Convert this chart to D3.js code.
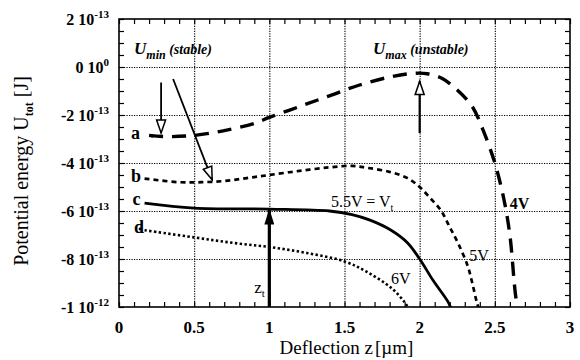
<!DOCTYPE html>
<html>
<head>
<meta charset="utf-8">
<script src="https://cdn.jsdelivr.net/npm/d3@7"></script>
<style>
  body { margin: 0; background: #fff; }
  svg text { font-family: "Liberation Serif", "Times New Roman", "DejaVu Serif", serif; fill: #000; }
</style>
</head>
<body>
<div id="chart"></div>
<script>
// curves (x in um, U in J)
var aX = [0.2, 0.3, 0.5, 0.7, 0.9, 1.0, 1.2, 1.4, 1.6, 1.8, 1.95, 2.05, 2.15, 2.25, 2.35, 2.42, 2.5, 2.56, 2.6, 2.64, 2.66];
var aU = [-2.85e-13, -2.9e-13, -2.85e-13, -2.65e-13, -2.35e-13, -2.1e-13, -1.65e-13, -1.2e-13, -0.75e-13, -0.42e-13, -0.27e-13, -0.28e-13, -0.48e-13, -0.96e-13, -1.65e-13, -2.6e-13, -4.0e-13, -5.5e-13, -7.0e-13, -9.6e-13, -10.2e-13];
var bX = [0.17, 0.4, 0.55, 0.7, 0.85, 1.0, 1.2, 1.4, 1.55, 1.65, 1.8, 1.92, 2.0, 2.07, 2.14, 2.2, 2.26, 2.32, 2.35, 2.38, 2.4];
var bU = [-4.65e-13, -4.8e-13, -4.8e-13, -4.75e-13, -4.63e-13, -4.5e-13, -4.33e-13, -4.18e-13, -4.12e-13, -4.2e-13, -4.37e-13, -4.63e-13, -5.0e-13, -5.46e-13, -5.96e-13, -6.67e-13, -7.4e-13, -8.3e-13, -9.0e-13, -9.8e-13, -10.2e-13];
var cX = [0.17, 0.5, 1.0, 1.4, 1.55, 1.67, 1.81, 1.92, 2.0, 2.09, 2.19, 2.21];
var cU = [-5.67e-13, -5.88e-13, -5.92e-13, -6.0e-13, -6.15e-13, -6.38e-13, -6.8e-13, -7.33e-13, -8.0e-13, -8.9e-13, -9.8e-13, -10.1e-13];
var dX = [0.17, 0.5, 0.76, 1.0, 1.25, 1.5, 1.65, 1.81, 1.9, 1.93];
var dU = [-6.8e-13, -7.1e-13, -7.33e-13, -7.5e-13, -7.75e-13, -8.1e-13, -8.54e-13, -9.2e-13, -9.8e-13, -10.1e-13];

var xTicks = [0, 0.5, 1, 1.5, 2, 2.5, 3];
var xTickLabels = ["0", "0.5", "1", "1.5", "2", "2.5", "3"];
var yTicks = [2e-13, 0, -2e-13, -4e-13, -6e-13, -8e-13, -1e-12];
var yTickMant = ["2 10", "0 10", "-2 10", "-4 10", "-6 10", "-8 10", "-1 10"];
var yTickExp = ["-13", "0", "-13", "-13", "-13", "-13", "-12"];

var width = 580, height = 360;
var margin = {left: 119, right: 10, top: 19, bottom: 53};
var w = width - margin.left - margin.right;
var h = height - margin.top - margin.bottom;
var serif = "'Liberation Serif', 'Times New Roman', 'DejaVu Serif', serif";

var svg = d3.select("#chart").append("svg")
    .attr("width", width)
    .attr("height", height)
    .attr("font-family", serif);

var defs = svg.append("defs");
defs.append("clipPath").attr("id", "clip")
  .append("rect").attr("width", w).attr("height", h);
defs.append("marker").attr("id", "solidHead")
    .attr("viewBox", "0 0 16 10").attr("refX", 15).attr("refY", 5)
    .attr("markerWidth", 16).attr("markerHeight", 10).attr("markerUnits", "userSpaceOnUse")
    .attr("orient", "auto")
  .append("path").attr("d", "M0,0 L16,5 L0,10 Z").attr("fill", "#000");
defs.append("marker").attr("id", "openHead")
    .attr("viewBox", "-2 -2 17 13").attr("refX", 13).attr("refY", 4.5)
    .attr("markerWidth", 17).attr("markerHeight", 13).attr("markerUnits", "userSpaceOnUse")
    .attr("orient", "auto")
  .append("path").attr("d", "M0,0 L13,4.5 L0,9 Z")
    .attr("fill", "#fff").attr("stroke", "#000").attr("stroke-width", 1.5);

var g = svg.append("g").attr("transform", "translate(" + margin.left + "," + margin.top + ")");

var x = d3.scaleLinear().domain([0, 3]).range([0, w]);
var y = d3.scaleLinear().domain([-1e-12, 2e-13]).range([h, 0]);

// grid
g.append("g").attr("class", "grid")
  .attr("transform", "translate(0," + h + ")")
  .call(d3.axisBottom(x).tickValues(xTicks.slice(1, -1)).tickSize(-h).tickFormat(""));
g.append("g").attr("class", "grid")
  .call(d3.axisLeft(y).tickValues(yTicks.slice(1, -1)).tickSize(-w).tickFormat(""));
g.selectAll(".grid .domain").remove();
g.selectAll(".grid line").attr("stroke", "#000").attr("stroke-width", 1.1).attr("stroke-dasharray", "1.2,1.3");

// inward ticks on all four sides
var xMinor = d3.range(0, 31).map(function(i) { return i / 10; });
var yMinor = d3.range(0, 25).map(function(i) { return 2e-13 - i * 0.5e-13; });
function ticks(sel) {
  sel.selectAll(".domain").remove();
  sel.selectAll("line").attr("stroke", "#000").attr("stroke-width", 1.2);
}
g.append("g").attr("transform", "translate(0," + h + ")")
  .call(d3.axisBottom(x).tickValues(xMinor).tickSize(-5).tickFormat("")).call(ticks);
g.append("g")
  .call(d3.axisTop(x).tickValues(xMinor).tickSize(-5).tickFormat("")).call(ticks);
g.append("g")
  .call(d3.axisLeft(y).tickValues(yMinor).tickSize(-5).tickFormat("")).call(ticks);
g.append("g").attr("transform", "translate(" + w + ",0)")
  .call(d3.axisRight(y).tickValues(yMinor).tickSize(-5).tickFormat("")).call(ticks);

// curves
var line = d3.line()
  .x(function(d) { return x(d[0]); })
  .y(function(d) { return y(d[1]); })
  .curve(d3.curveCatmullRom);

var curves = g.append("g").attr("clip-path", "url(#clip)");
function addCurve(xs, us, sw, dash) {
  curves.append("path")
    .datum(d3.zip(xs, us))
    .attr("d", line)
    .attr("fill", "none")
    .attr("stroke", "#000")
    .attr("stroke-width", sw)
    .attr("stroke-dasharray", dash);
}
addCurve(aX, aU, 3.4, "14,9");
addCurve(bX, bU, 2.7, "5,4");
addCurve(cX, cU, 2.8, null);
addCurve(dX, dU, 2.6, "2.4,2.4");

// small dots right after the "a" and "d" labels
g.append("circle").attr("cx", x(0.22)).attr("cy", y(-2.88e-13)).attr("r", 1.6);
g.append("circle").attr("cx", x(0.14)).attr("cy", y(-6.75e-13)).attr("r", 1.4);

// frame
g.append("rect").attr("width", w).attr("height", h)
  .attr("fill", "none").attr("stroke", "#000").attr("stroke-width", 1.6);

// arrows
function arrow(x0, u0, x1, u1, sw, head) {
  g.append("line")
    .attr("x1", x(x0)).attr("y1", y(u0))
    .attr("x2", x(x1)).attr("y2", y(u1))
    .attr("stroke", "#000").attr("stroke-width", sw)
    .attr("marker-end", "url(#" + head + ")");
}
arrow(1, -1e-12, 1, -5.94e-13, 3.2, "solidHead");
arrow(2, -2.75e-13, 2, -0.6e-13, 2.2, "openHead");
arrow(0.28, -0.65e-13, 0.28, -2.75e-13, 1.8, "openHead");
arrow(0.36, -0.5e-13, 0.62, -4.7e-13, 1.8, "openHead");

// tick labels
svg.append("g").selectAll("text").data(xTicks).enter().append("text")
  .attr("x", function(d) { return margin.left + x(d); })
  .attr("y", margin.top + h + 26)
  .attr("text-anchor", "middle")
  .attr("font-size", 17)
  .attr("font-weight", "bold")
  .text(function(d, i) { return xTickLabels[i]; });

var yl = svg.append("g").selectAll("text").data(yTicks).enter().append("text")
  .attr("x", margin.left - 10)
  .attr("y", function(d) { return margin.top + y(d) + 6; })
  .attr("text-anchor", "end")
  .attr("font-size", 16)
  .attr("font-weight", "bold");
yl.append("tspan").text(function(d, i) { return yTickMant[i]; });
yl.append("tspan").attr("dy", -7).attr("font-size", 11).text(function(d, i) { return yTickExp[i]; });

// axis titles
var xt = svg.append("text")
  .attr("x", margin.left + w / 2 + 2).attr("y", 354)
  .attr("text-anchor", "middle").attr("font-size", 19);
xt.append("tspan").text("Deflection z");
xt.append("tspan").attr("dy", 3).attr("font-size", 8).text(" ");
xt.append("tspan").attr("dy", -3).text("[\u00b5m]");

var yt = svg.append("text")
  .attr("transform", "translate(28," + (margin.top + h / 2 + 8) + ") rotate(-90)")
  .attr("text-anchor", "middle").attr("font-size", 20);
yt.append("tspan").text("Potential energy U");
yt.append("tspan").attr("dy", 5).attr("font-size", 12).attr("font-weight", "bold").text("tot");
yt.append("tspan").attr("dy", -5).text(" [J]");

// curve and annotation labels
function label(xv, uv, txt, size) {
  return g.append("text")
    .attr("x", x(xv)).attr("y", y(uv))
    .attr("font-size", size || 18)
    .attr("font-weight", "bold")
    .text(txt);
}
label(0.08, -3.0e-13, "a");
label(0.08, -4.8e-13, "b");
label(0.09, -5.75e-13, "c");
label(0.1, -6.9e-13, "d");
label(2.6, -5.9e-13, "4V", 16);
label(2.33, -8.1e-13, "5V", 16).attr("font-weight", "normal");
label(1.81, -9.05e-13, "6V", 16).attr("font-weight", "normal");

var vt = label(1.41, -5.83e-13, "5.5V = V", 16).attr("font-weight", "normal");
vt.append("tspan").attr("dy", 4).attr("font-size", 10).text("t");

var zt = label(0.9, -9.4e-13, "z", 17).attr("font-weight", "normal");
zt.append("tspan").attr("dy", 4).attr("font-size", 11).text("t");

var umin = label(0.1, 0.55e-13, "U", 17).attr("font-style", "italic");
umin.append("tspan").attr("dy", 5).attr("font-size", 12).text("min");
umin.append("tspan").attr("dy", -5).attr("font-size", 14).text(" (stable)");

var umax = label(1.69, 0.55e-13, "U", 17).attr("font-style", "italic");
umax.append("tspan").attr("dy", 5).attr("font-size", 12).text("max");
umax.append("tspan").attr("dy", -5).attr("font-size", 14).text(" (unstable)");
</script>
</body>
</html>
